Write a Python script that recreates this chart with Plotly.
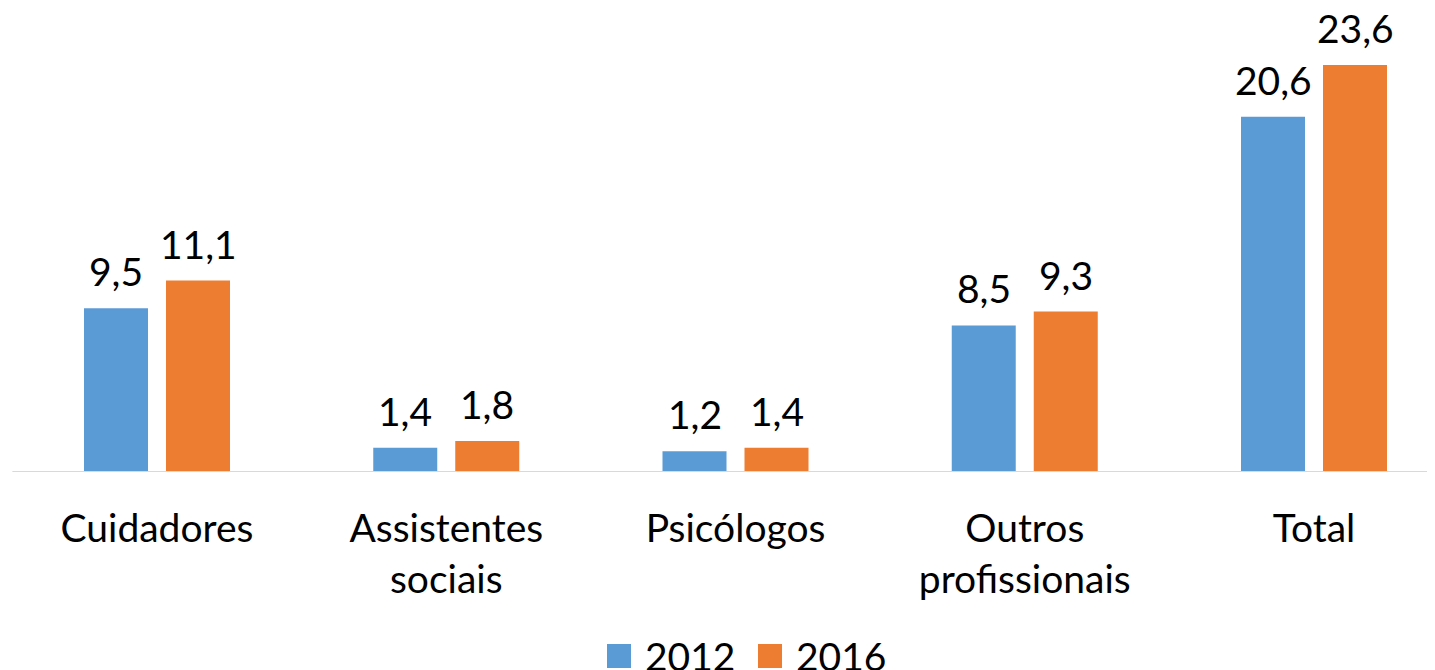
import plotly.graph_objects as go

categories = ["Cuidadores", "Assistentes<br>sociais", "Psicólogos", "Outros<br>profissionais", "Total"]
series_names = ["2012", "2016"]
values_2012 = [9.5, 1.4, 1.2, 8.5, 20.6]
values_2016 = [11.1, 1.8, 1.4, 9.3, 23.6]
colors = ["#5B9BD5", "#ED7D31"]

W, H = 1435, 670
OFF = 8  # page body margin offset
FONT = "Lato, Carlito, sans-serif"
FS = 39

fig = go.Figure()
all_vals = [values_2012, values_2016]
for name, vals, col in zip(series_names, all_vals, colors):
    fig.add_trace(go.Bar(x=categories, y=vals, name=name, marker_color=col,
                         marker_line_width=0, showlegend=False))

cat_step = 289.25
bargap = 1 - 164 / cat_step
bargroupgap = 18 / 82
slot = (1 - bargap) / 2
offsets = [-slot / 2, slot / 2]

annotations = []
for s, vals in enumerate(all_vals):
    for i, v in enumerate(vals):
        annotations.append(dict(
            x=i + offsets[s], y=v, xref="x", yref="y",
            text=f"{v:.1f}".replace(".", ","), showarrow=False,
            yanchor="bottom", xanchor="center", yshift=12,
            font=dict(family=FONT, size=FS, color="black")))

plot_h = 472 - OFF
def py(pix):
    return (plot_h - (pix - OFF)) / plot_h

def px(pix):
    return (pix - OFF) / W

first_center = 157 - OFF
r0 = -first_center / cat_step
r1 = (W - first_center) / cat_step

legend_x = [607, 758]
shapes = [dict(type="line", xref="x", yref="y", x0=-0.5, x1=4.6, y0=0, y1=0,
               line=dict(color="#d9d9d9", width=2), layer="above")]
for k, (name, col) in enumerate(zip(series_names, colors)):
    x0 = legend_x[k]
    shapes.append(dict(type="rect", xref="paper", yref="paper",
                       x0=px(x0), x1=px(x0 + 24), y0=py(668), y1=py(644),
                       fillcolor=col, line=dict(width=0)))
    annotations.append(dict(x=px(x0 + 36), y=py(656), xref="paper", yref="paper",
                            text=name, showarrow=False, xanchor="left", yanchor="middle",
                            font=dict(family=FONT, size=FS, color="black")))

fig.update_layout(
    width=W, height=H,
    margin=dict(l=0, r=0, t=0, b=H - plot_h, pad=0),
    paper_bgcolor="white", plot_bgcolor="white",
    barmode="group", bargap=bargap, bargroupgap=bargroupgap,
    font=dict(family=FONT, size=FS, color="black"),
    xaxis=dict(type="category", range=[r0, r1], showgrid=False, showline=False,
               zeroline=False, ticks="", tickfont=dict(family=FONT, size=FS, color="black"),
               ticklabelstandoff=30),
    yaxis=dict(range=[0, plot_h / 17.25], visible=False),
    annotations=annotations, shapes=shapes,
    showlegend=False,
)

fig.write_html("out.html")
